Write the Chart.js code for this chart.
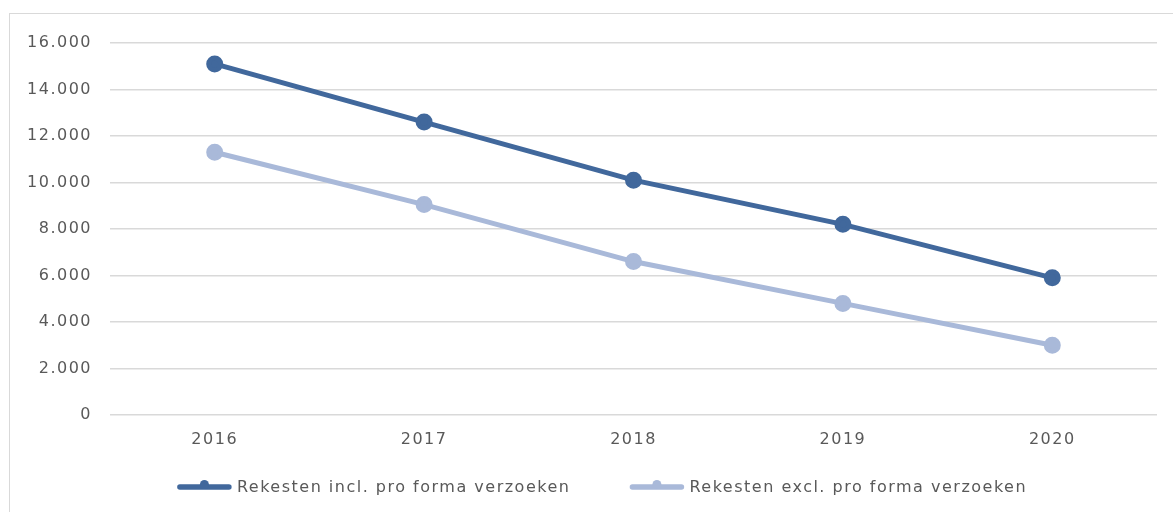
<!DOCTYPE html>
<html>
<head>
<meta charset="utf-8">
<script src="https://cdn.jsdelivr.net/npm/chart.js@4/dist/chart.umd.min.js"></script>
<style>
html,body{margin:0;padding:0;background:#fff;}
#wrap{position:relative;width:1173px;height:512px;}
#frame{position:absolute;left:9px;top:13px;right:-5px;bottom:-5px;border-left:1.5px solid #d9d9d9;border-top:1.5px solid #d9d9d9;}
canvas{position:absolute;left:0;top:0;}
</style>
</head>
<body>
<div id="wrap"><div id="frame"></div><canvas id="c" width="1173" height="512"></canvas></div>
<script>
const categories = ['2016','2017','2018','2019','2020'];
const seriesIncl = [15100, 12600, 10100, 8200, 5900];
const seriesExcl = [11300, 9050, 6600, 4800, 3000];
const seriesNames = ['Rekesten incl. pro forma verzoeken','Rekesten excl. pro forma verzoeken'];
const colors = ['#41689C','#A9B9D9'];
const FONT = '"DejaVu Sans", sans-serif';
const FONT_SIZE = 16;
const SPACING = '1.5px';
const TEXT_COLOR = '#595959';

const fmt = v => String(v).replace(/\B(?=(\d{3})+(?!\d))/g,'.');

const spacingPlugin = {
  id:'spacing',
  beforeInit(chart){ chart.ctx.letterSpacing = SPACING; },
  beforeLayout(chart){ chart.ctx.letterSpacing = SPACING; },
  beforeDraw(chart){ chart.ctx.letterSpacing = SPACING; }
};

const legendPlugin = {
  id:'customLegend',
  afterDraw(chart){
    const ctx = chart.ctx;
    ctx.save();
    ctx.letterSpacing = SPACING;
    ctx.font = `${FONT_SIZE}px ${FONT}`;
    const iconW = 55, gapIcon = 5, gapItem = 59;
    const items = chart.data.datasets.map(d => ({label:d.label, color:d.borderColor, w:ctx.measureText(d.label).width}));
    const total = items.reduce((s,it)=>s+iconW+gapIcon+it.w,0) + gapItem*(items.length-1);
    let x = chart.width/2 + 15.5 - total/2;
    const y = 487;
    items.forEach(it=>{
      ctx.strokeStyle = it.color; ctx.lineWidth = 5.5; ctx.lineCap = 'round';
      ctx.beginPath(); ctx.moveTo(x+3, y); ctx.lineTo(x+iconW-3, y); ctx.stroke();
      ctx.fillStyle = it.color;
      ctx.beginPath(); ctx.arc(x+iconW/2, y-2.5, 4.5, 0, Math.PI*2); ctx.fill();
      ctx.fillStyle = TEXT_COLOR; ctx.textBaseline = 'middle'; ctx.textAlign = 'left';
      ctx.fillText(it.label, x+iconW+gapIcon, y+1);
      x += iconW + gapIcon + it.w + gapItem;
    });
    ctx.restore();
  }
};

new Chart(document.getElementById('c'),{
  type:'line',
  data:{
    labels:categories,
    datasets:[
      {label:seriesNames[0],data:seriesIncl,borderColor:colors[0],backgroundColor:colors[0],borderWidth:5,pointRadius:6,pointHoverRadius:6,pointStyle:'circle',tension:0},
      {label:seriesNames[1],data:seriesExcl,borderColor:colors[1],backgroundColor:colors[1],borderWidth:5,pointRadius:6,pointHoverRadius:6,pointStyle:'circle',tension:0}
    ]
  },
  plugins:[spacingPlugin, legendPlugin],
  options:{
    responsive:false,
    animation:false,
    layout:{padding:{left:10,top:43,right:16,bottom:46}},
    plugins:{
      tooltip:{enabled:false},
      legend:{display:false}
    },
    scales:{
      x:{
        offset:true,
        grid:{display:false},
        border:{display:false},
        ticks:{color:TEXT_COLOR,font:{family:FONT,size:FONT_SIZE},padding:7},
        afterFit:(s)=>{s.height=51;}
      },
      y:{
        min:0,max:16000,
        ticks:{stepSize:2000,color:TEXT_COLOR,font:{family:FONT,size:FONT_SIZE},padding:18,callback:v=>fmt(v)},
        grid:{color:'#d9d9d9',lineWidth:1.5,drawTicks:false},
        border:{display:false},
        afterFit:(s)=>{s.width=100;}
      }
    }
  }
});
</script>
</body>
</html>
